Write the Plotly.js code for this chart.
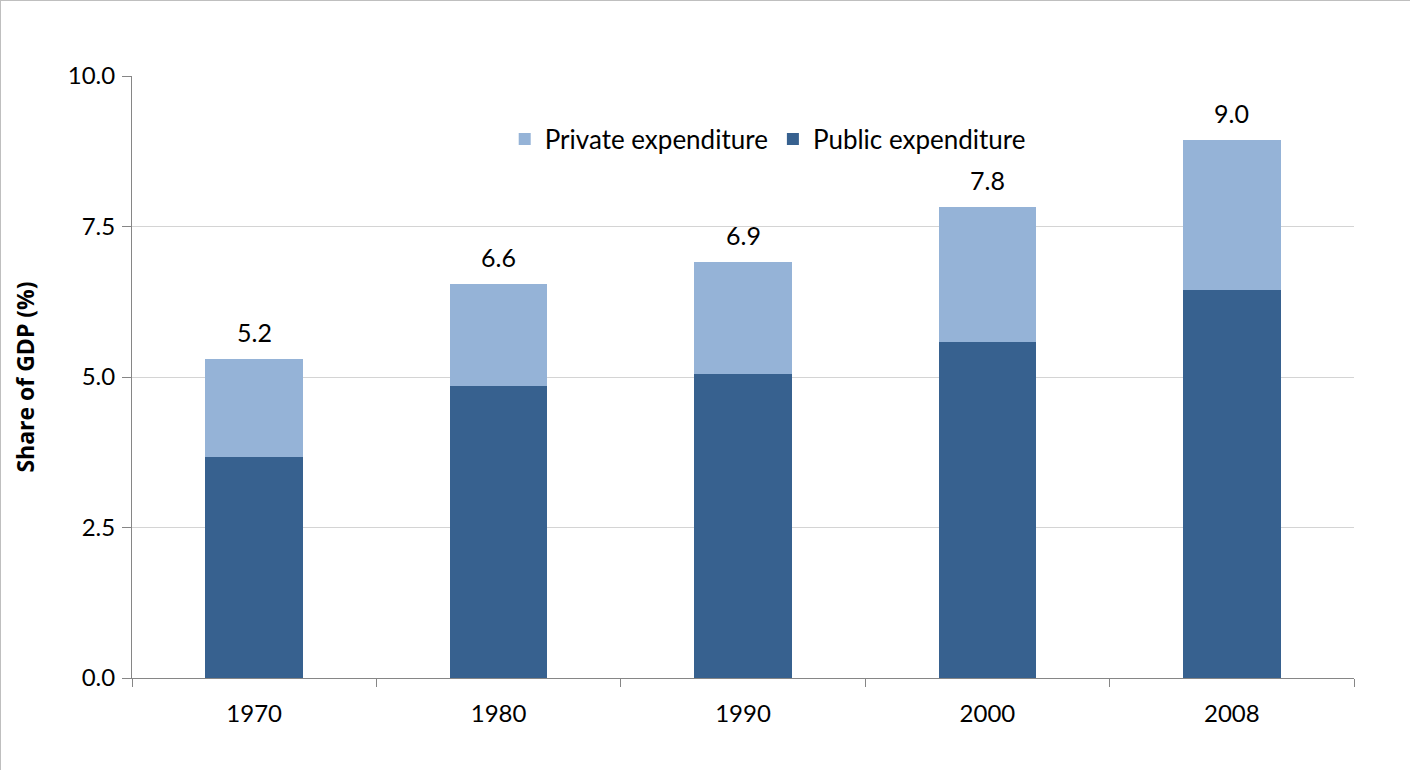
<!DOCTYPE html>
<html>
<head>
<meta charset="utf-8">
<script src="https://cdn.plot.ly/plotly-3.0.1.min.js"></script>
<style>
html,body{margin:0;padding:0;background:#fff;}
#chart{width:1410px;height:770px;box-sizing:border-box;border:1px solid #bfbfbf;}
</style>
</head>
<body>
<div id="chart"></div>
<script>
const years = ['1970', '1980', '1990', '2000', '2008'];
const publicExp = [3.67, 4.85, 5.05, 5.58, 6.45];
const privateExp = [1.63, 1.69, 1.86, 2.24, 2.49];
const totalLabels = ['5.2', '6.6', '6.9', '7.8', '9.0'];
const yTicks = [0, 2.5, 5, 7.5, 10];
const yTickText = ['0.0', '2.5', '5.0', '7.5', '10.0'];

const FONT = 'Lato, "Open Sans", sans-serif';

const traces = [
  {
    type: 'bar', name: 'Public expenditure', x: years, y: publicExp,
    marker: {color: '#37618F'}, width: 0.4
  },
  {
    type: 'bar', name: 'Private expenditure', x: years, y: privateExp,
    marker: {color: '#95B3D7'}, width: 0.4
  }
];

const annotations = years.map((yr, i) => ({
  xref: 'x', yref: 'y',
  x: i, y: publicExp[i] + privateExp[i], text: totalLabels[i],
  showarrow: false, yanchor: 'bottom', xanchor: 'center', yshift: 10,
  font: {family: FONT, size: 25, color: '#000'}
}));

const layout = {
  width: 1410, height: 770,
  margin: {l: 131, r: 57, t: 75, b: 93},
  paper_bgcolor: '#fff', plot_bgcolor: '#fff',
  barmode: 'stack',
  font: {family: FONT, size: 23, color: '#000'},
  showlegend: true,
  legend: {
    orientation: 'h', x: 0.305, y: 0.895, xanchor: 'left', yanchor: 'middle',
    traceorder: 'reversed', font: {family: FONT, size: 26, color: '#000'},
    bgcolor: 'rgba(0,0,0,0)'
  },
  xaxis: {
    type: 'category', range: [-0.5, 4.5], autorange: false,
    showgrid: false, showline: true, linecolor: '#868686', linewidth: 1,
    ticks: 'outside', ticklen: 8, tickcolor: '#868686', tickson: 'boundaries',
    tickangle: 0, ticklabelstandoff: 14,
    tickfont: {family: FONT, size: 24, color: '#000'}
  },
  yaxis: {
    range: [0, 10], autorange: false, tickvals: yTicks, ticktext: yTickText,
    showgrid: true, gridcolor: '#d4d4d4', gridwidth: 1,
    showline: true, linecolor: '#868686', linewidth: 1,
    ticks: 'outside', ticklen: 9, tickcolor: '#868686', ticklabelstandoff: 2,
    tickfont: {family: FONT, size: 24, color: '#000'}, zeroline: false,
    title: {text: '<b>Share of GDP (%)</b>', font: {family: '"Open Sans", sans-serif', size: 23, color: '#000'}, standoff: 26}
  },
  annotations: annotations
};

Plotly.newPlot('chart', traces, layout, {displayModeBar: false});
</script>
</body>
</html>
